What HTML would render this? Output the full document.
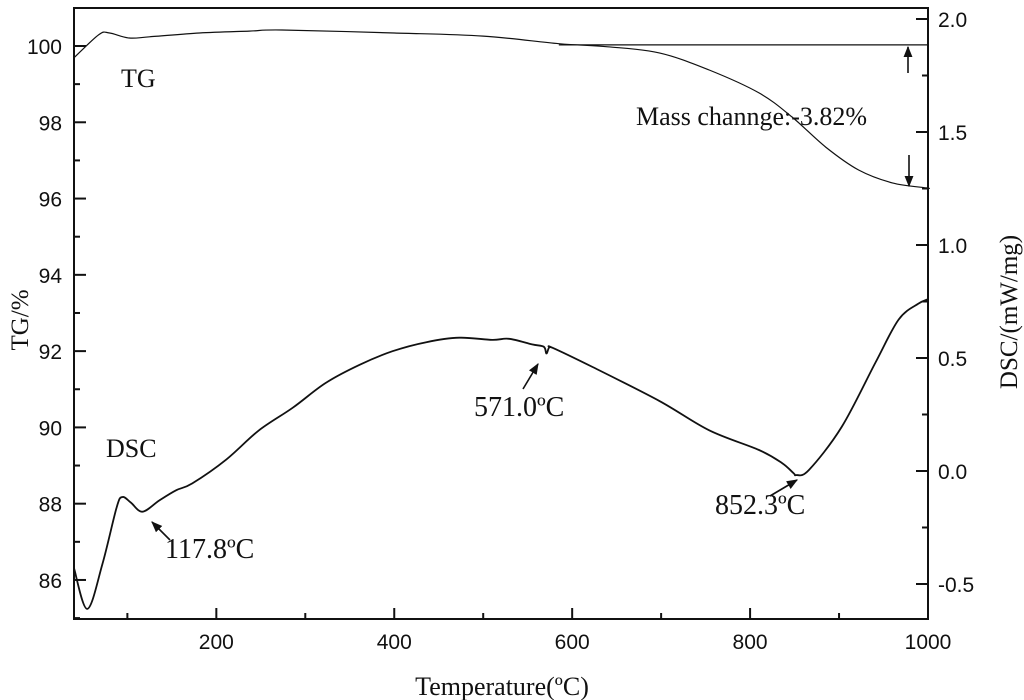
<!DOCTYPE html>
<html><head><meta charset="utf-8"><style>
html,body{margin:0;padding:0;background:#fff;}
svg{display:block;}
.tk{font-family:"Liberation Sans",sans-serif;font-size:21px;fill:#111;}
.sr{font-family:"Liberation Serif",serif;fill:#111;}
</style></head><body>
<svg id="chart" width="1024" height="700" viewBox="0 0 1024 700" xmlns="http://www.w3.org/2000/svg">
<defs><marker id="ah" viewBox="0 0 10 10" refX="9" refY="5" markerWidth="7" markerHeight="7" orient="auto"><path d="M0,1 L10,5 L0,9 z" fill="#111"/></marker></defs>
<g id="marks"></g>
<rect x="74" y="8" width="854" height="611" fill="none" stroke="#111" stroke-width="2"/>
<text class="sr" x="121" y="87" font-size="26">TG</text>
<text class="sr" x="106" y="457" font-size="26">DSC</text>
<text class="sr" x="636" y="125" font-size="26">Mass channge:-3.82%</text>
<text class="sr" x="165" y="558" font-size="28">117.8ºC</text>
<text class="sr" x="474" y="416" font-size="28">571.0ºC</text>
<text class="sr" x="715" y="514" font-size="28">852.3ºC</text>
<text class="sr" x="502" y="695" font-size="26" text-anchor="middle">Temperature(ºC)</text>
<text class="sr" transform="translate(28,320) rotate(-90)" font-size="25" text-anchor="middle">TG/%</text>
<text class="sr" transform="translate(1017,312) rotate(-90)" font-size="25" text-anchor="middle">DSC/(mW/mg)</text>
</svg>
<script>
const tgTemps=[40,68,80,102,125,181,237,274,400,500,585,640,698,754,810,847,885,922,960,998,1000];
const tgValues=[99.69,100.3,100.34,100.21,100.24,100.34,100.39,100.42,100.34,100.26,100.06,99.98,99.82,99.37,98.77,98.14,97.35,96.75,96.41,96.28,96.27];
const dscTemps=[40,55,72,88,94.5,104,117,136,155,173,211,248,286,323,361,398,436,473,510,529,555,568,571,574,578,623,698,754,810,836,849,852,866,903,941,967,989,1000];
const dscValues=[-0.43,-0.61,-0.41,-0.16,-0.115,-0.14,-0.18,-0.13,-0.085,-0.055,0.05,0.18,0.28,0.39,0.47,0.53,0.57,0.59,0.58,0.585,0.56,0.55,0.52,0.545,0.545,0.46,0.31,0.18,0.093,0.035,-0.01,-0.018,0.004,0.195,0.48,0.67,0.74,0.76];
const xTicks=[200,400,600,800,1000];
const xMinor=[100,300,500,700,900];
const tgTicks=[86,88,90,92,94,96,98,100];
const tgMinor=[85,87,89,91,93,95,97,99];
const dscTicks=[-0.5,0.0,0.5,1.0,1.5,2.0];
const dscMinor=[-0.25,0.25,0.75,1.25,1.75];
const X=t=>74+(t-40)*(854/960);
const YL=v=>46+(100-v)*38.14;
const YR=v=>471-v*226;
const NS="http://www.w3.org/2000/svg";
const g=document.getElementById('marks');
function mk(tag,attrs){const e=document.createElementNS(NS,tag);for(const k in attrs)e.setAttribute(k,attrs[k]);g.appendChild(e);return e;}
function smooth(pts){let d='M'+pts[0][0].toFixed(1)+','+pts[0][1].toFixed(1);
for(let i=0;i<pts.length-1;i++){const p0=pts[Math.max(0,i-1)],p1=pts[i],p2=pts[i+1],p3=pts[Math.min(pts.length-1,i+2)];
const c1x=p1[0]+(p2[0]-p0[0])/6,c1y=p1[1]+(p2[1]-p0[1])/6,c2x=p2[0]-(p3[0]-p1[0])/6,c2y=p2[1]-(p3[1]-p1[1])/6;
d+='C'+c1x.toFixed(1)+','+c1y.toFixed(1)+' '+c2x.toFixed(1)+','+c2y.toFixed(1)+' '+p2[0].toFixed(1)+','+p2[1].toFixed(1);}return d;}
let p=mk('path',{d:smooth(tgTemps.map((t,i)=>[X(t),YL(tgValues[i])])),fill:'none',stroke:'#111','stroke-width':1.2});


p=mk('path',{d:smooth(dscTemps.map((t,i)=>[X(t),YR(dscValues[i])])),fill:'none',stroke:'#111','stroke-width':1.8});


let ref=mk('line',{x1:X(585),x2:928,y1:YL(100.03),y2:YL(100.03),stroke:'#111','stroke-width':1.3});


const arrows=[['arrow-up-tg',908,73,908,47],['arrow-down-tg',909,155,909,186],['arrow-117',170,540,152,522],['arrow-571',523,389,538,364],['arrow-852',770,496,797,480]];
arrows.forEach(a=>{const l=mk('line',{x1:a[1],y1:a[2],x2:a[3],y2:a[4],stroke:'#111','stroke-width':1.6,'marker-end':'url(#ah)'});

});
xTicks.forEach(t=>{const x=X(t);const l=mk('line',{x1:x,x2:x,y1:619,y2:608,stroke:'#111','stroke-width':2});


const tx=mk('text',{x:x,y:649,'text-anchor':'middle',class:'tk'});tx.textContent=t;

});
xMinor.forEach(t=>{const l=mk('line',{x1:X(t),x2:X(t),y1:619,y2:613,stroke:'#111','stroke-width':2});

});
tgTicks.forEach(v=>{const y=YL(v);const l=mk('line',{x1:74,x2:86,y1:y,y2:y,stroke:'#111','stroke-width':2});


const tx=mk('text',{x:62,y:y+8,'text-anchor':'end',class:'tk'});tx.textContent=v;

});
tgMinor.forEach(v=>{const l=mk('line',{x1:74,x2:80,y1:YL(v),y2:YL(v),stroke:'#111','stroke-width':2});

});
dscTicks.forEach(v=>{const y=YR(v);const l=mk('line',{x1:916,x2:928,y1:y,y2:y,stroke:'#111','stroke-width':2});


const tx=mk('text',{x:938,y:y+8,class:'tk'});tx.textContent=v.toFixed(1);

});
dscMinor.forEach(v=>{const l=mk('line',{x1:922,x2:928,y1:YR(v),y2:YR(v),stroke:'#111','stroke-width':2});

});
</script>
</body></html>
